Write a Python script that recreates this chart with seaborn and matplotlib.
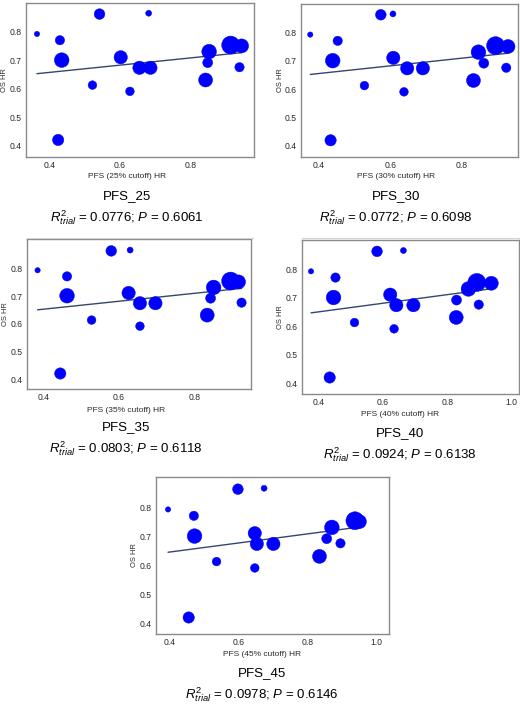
import numpy as np
import pandas as pd
import matplotlib
matplotlib.use("Agg")
import matplotlib.pyplot as plt
from matplotlib.lines import Line2D
import seaborn as sns

# ---------------- data ----------------
os_hr = [0.793, 0.771, 0.701, 0.420, 0.863, 0.866, 0.613, 0.711, 0.591,
         0.674, 0.674, 0.631, 0.731, 0.692, 0.754, 0.751, 0.676]
weight = [64, 196, 484, 289, 256, 81, 169, 400, 169,
          400, 400, 441, 484, 225, 729, 441, 196]

pfs_25 = [0.365, 0.430, 0.435, 0.425, 0.542, 0.681, 0.522, 0.602, 0.628,
          0.655, 0.686, 0.842, 0.852, 0.848, 0.913, 0.944, 0.938]
pfs_30 = [0.375, 0.452, 0.438, 0.432, 0.573, 0.607, 0.527, 0.608, 0.638,
          0.647, 0.691, 0.833, 0.847, 0.862, 0.895, 0.930, 0.925]
pfs_35 = [0.385, 0.463, 0.463, 0.445, 0.580, 0.630, 0.528, 0.626, 0.656,
          0.656, 0.697, 0.834, 0.851, 0.843, 0.896, 0.917, 0.925]
pfs_40 = [0.377, 0.453, 0.447, 0.435, 0.582, 0.664, 0.512, 0.623, 0.635,
          0.642, 0.695, 0.828, 0.866, 0.829, 0.892, 0.937, 0.898]
pfs_45 = [0.394, 0.469, 0.471, 0.454, 0.597, 0.673, 0.535, 0.646, 0.646,
          0.652, 0.700, 0.834, 0.870, 0.855, 0.937, 0.950, 0.895]

panel_names = ["PFS_25", "PFS_30", "PFS_35", "PFS_40", "PFS_45"]
xlabels = ["PFS (25% cutoff) HR", "PFS (30% cutoff) HR", "PFS (35% cutoff) HR",
           "PFS (40% cutoff) HR", "PFS (45% cutoff) HR"]
r2_vals = ["0.0776", "0.0772", "0.0803", "0.0924", "0.0978"]
p_vals = ["0.6061", "0.6098", "0.6118", "0.6138", "0.6146"]
xticks_list = [[0.4, 0.6, 0.8], [0.4, 0.6, 0.8], [0.4, 0.6, 0.8],
               [0.4, 0.6, 0.8, 1.0], [0.4, 0.6, 0.8, 1.0]]
yticks = [0.4, 0.5, 0.6, 0.7, 0.8]
pfs_all = [pfs_25, pfs_30, pfs_35, pfs_40, pfs_45]

# ---------------- layout (pixels) ----------------
W, H = 520, 706
# left, top, right, bottom of axes frame
boxes = [(26, 3, 254, 157), (301, 4, 518, 157), (27, 239, 251, 389),
         (302, 240, 519, 394), (156, 477, 389, 634)]
xlims = [(0.334, 0.979), (0.349, 0.958), (0.357, 0.950), (0.349, 1.023), (0.359, 1.036)]
ylims = [(0.360, 0.902), (0.361, 0.901), (0.364, 0.906), (0.362, 0.903), (0.363, 0.905)]
# text centers: (x, y_xlabel, y_title, y_r2)
texts = [(127, 176, 196, 218), (396, 176, 196, 218), (126, 410, 427, 449),
         (400, 415, 433, 455), (262, 655, 673, 695)]

sns.set_theme(style="white")
plt.rcParams['font.family'] = ['Liberation Sans', 'DejaVu Sans']
plt.rcParams['mathtext.fontset'] = 'custom'
plt.rcParams['mathtext.rm'] = 'Liberation Sans'
plt.rcParams['mathtext.it'] = 'Liberation Sans:italic'

fig = plt.figure(figsize=(W / 100, H / 100), dpi=100)
fig.patch.set_facecolor("white")

frame_col = "#8a8a8a"
for i in range(5):
    l, t, r, b = boxes[i]
    ax = fig.add_axes([l / W, 1 - b / H, (r - l) / W, (b - t) / H])
    df = pd.DataFrame({"x": pfs_all[i], "y": os_hr, "w": weight})
    xs = np.array(pfs_all[i]); ys = np.array(os_hr); ws = np.array(weight, float)
    coef = np.polyfit(xs, ys, 1, w=np.sqrt(ws))
    xl = np.array([xs.min(), xs.max()])
    ax.plot(xl, np.polyval(coef, xl), color="#34476a", lw=1.0, zorder=1)
    sns.scatterplot(data=df, x="x", y="y", size="w", sizes=(15, 168),
                    size_norm=(64, 729), color="#0000ff", edgecolor="#0000ee",
                    linewidth=0.3, legend=False, ax=ax, zorder=2)
    ax.set_xlim(*xlims[i]); ax.set_ylim(*ylims[i])
    ax.set_xticks(xticks_list[i]); ax.set_yticks(yticks)
    ax.set_xticklabels([f"{v:.1f}" for v in xticks_list[i]])
    ax.set_yticklabels([f"{v:.1f}" for v in yticks])
    ax.tick_params(axis="both", labelsize=6.2, length=2, width=0.6,
                   color=frame_col, labelcolor="#2a2a2a", pad=1.2)
    for s in ax.spines.values():
        s.set_color(frame_col); s.set_linewidth(1.0)
    ax.set_xlabel("")
    ax.set_ylabel("OS HR", fontsize=5.4, color="#2a2a2a")
    ax.yaxis.set_label_coords(-17.5 / (r - l), 0.5)
    cx, yx, yt, yr = texts[i]
    fig.text(cx / W, 1 - yx / H, xlabels[i], ha="center", va="center",
             fontsize=6.0, color="#2a2a2a")
    fig.text(cx / W, 1 - yt / H, panel_names[i], ha="center", va="center",
             fontsize=9.6, color="black")
    fig.text(cx / W, 1 - yr / H,
             r"$R^{\mathrm{2}}_{trial}$ = " + r2_vals[i] + "; $P$ = " + p_vals[i],
             ha="center", va="center", fontsize=9.5, color="black")

for x0, x1 in [(27, 253), (302, 520)]:
    fig.add_artist(Line2D([x0 / W, x1 / W], [1 - 238 / H, 1 - 238 / H],
                          color="#d4d4d4", lw=0.8))

fig.savefig("out.png", dpi=100, facecolor="white")
